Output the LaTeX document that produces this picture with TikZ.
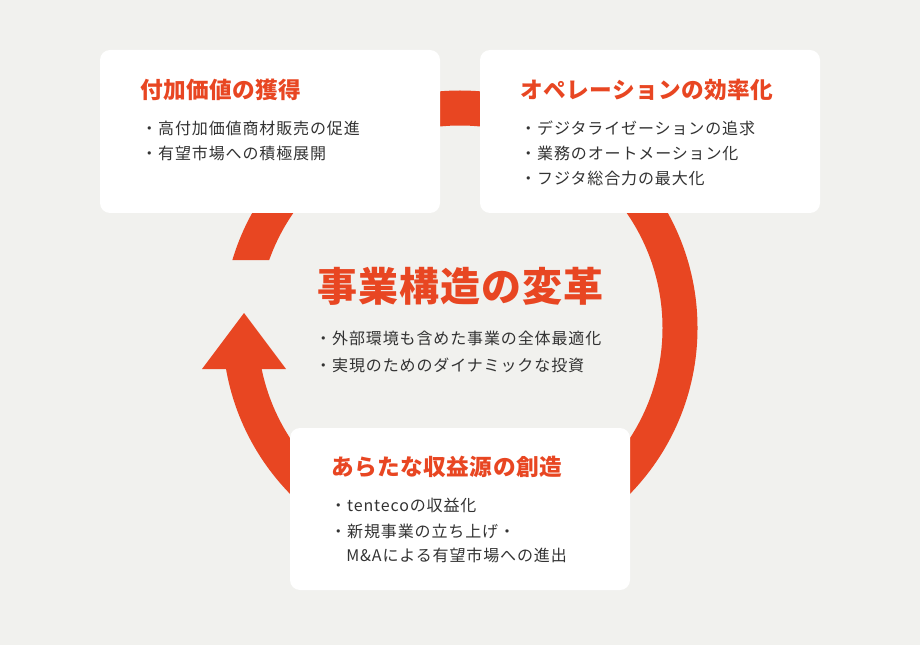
\documentclass[tikz,border=0pt]{standalone}
\usepackage{fontspec}
\setmainfont{Noto Sans CJK JP}
\newfontfamily\itmfont[LetterSpace=5.5]{Noto Sans CJK JP}
\newfontfamily\ttlfont[LetterSpace=2]{Noto Sans CJK JP}
\newfontfamily\bigfont[LetterSpace=2.8]{Noto Sans CJK JP}
\definecolor{bg}{HTML}{F1F1EE}
\definecolor{accent}{HTML}{E84622}
\definecolor{ink}{HTML}{333333}
\tikzset{
  ttl/.style={font=\ttlfont\bfseries\fontsize{17}{20}\selectfont, text=accent, anchor=west, inner sep=0pt},
  bigttl/.style={font=\bigfont\bfseries\fontsize{30}{34}\selectfont, text=accent, anchor=west, inner sep=0pt},
  itm/.style={font=\itmfont\fontsize{12}{15}\selectfont, text=ink, anchor=west, inner sep=0pt},
  card/.style={fill=white, rounded corners=7.5pt},
  ring/.style={fill=accent}
}
\begin{document}
\begin{tikzpicture}[x=0.75pt, y=-0.75pt]
\useasboundingbox (0,0) rectangle (920,645);
\fill[bg] (0,0) rectangle (920,645);
% ring with gap on the left
\begin{scope}[even odd rule]
  \clip (0,0) rectangle (920,645) (190,260) rectangle (300,369);
  \fill[ring, even odd rule] (460,328) circle[radius=237.5] (460,328) circle[radius=202.5];
\end{scope}
% arrowhead
\coordinate (tip) at (244,313);
\coordinate (bl) at (202,369);
\coordinate (br) at (286,369);
\fill[ring] (bl) -- (tip) -- (br) -- cycle;
% cards
\fill[card] (100,50) rectangle (440,213);
\fill[card] (480,50) rectangle (820,213);
\fill[card] (290,428) rectangle (630,590);
% left card
\node[ttl] (t1) at (140,90) {付加価値の獲得};
\node[itm] (a1) at (141,128) {・高付加価値商材販売の促進};
\node[itm] (a2) at (141,153) {・有望市場への積極展開};
% right card
\node[ttl] (t2) at (520,90) {オペレーションの効率化};
\node[itm] (b1) at (520,128) {・デジタライゼーションの追求};
\node[itm] (b2) at (520,153) {・業務のオートメーション化};
\node[itm] (b3) at (520,178) {・フジタ総合力の最大化};
% center
\node[bigttl] (t0) at (317,286) {事業構造の変革};
\node[itm] (c1) at (315,338) {・外部環境も含めた事業の全体最適化};
\node[itm] (c2) at (315,365) {・実現のためのダイナミックな投資};
% bottom card
\node[ttl] (t3) at (331,467) {あらたな収益源の創造};
\node[itm] (d1) at (330,505) {・tentecoの収益化};
\node[itm] (d2) at (330,531) {・新規事業の立ち上げ・};
\node[itm] (d3) at (346,555) {M\&Aによる有望市場への進出};
\end{tikzpicture}
\end{document}
